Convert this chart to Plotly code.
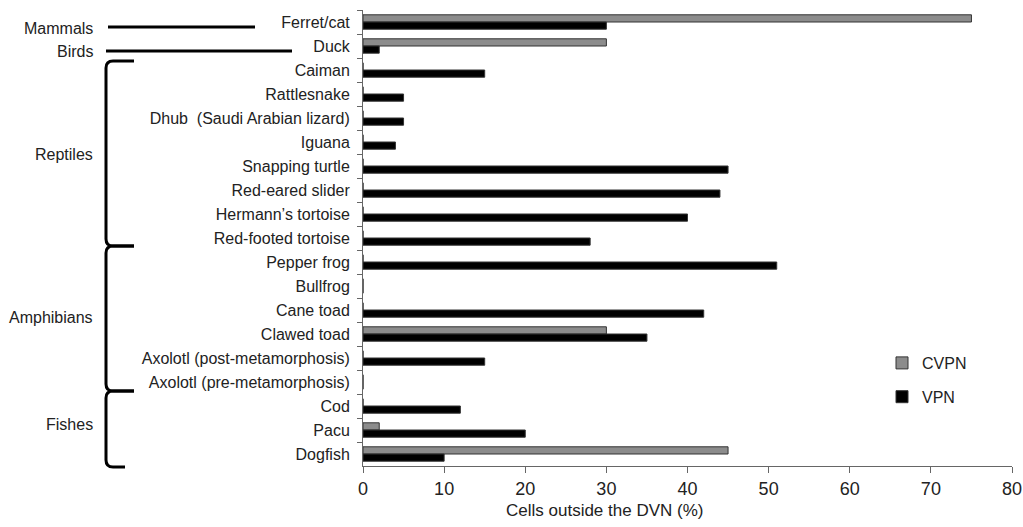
import plotly.graph_objects as go

species = ["Ferret/cat", "Duck", "Caiman", "Rattlesnake", "Dhub  (Saudi Arabian lizard)",
           "Iguana", "Snapping turtle", "Red-eared slider", "Hermann\u2019s tortoise",
           "Red-footed tortoise", "Pepper frog", "Bullfrog", "Cane toad", "Clawed toad",
           "Axolotl (post-metamorphosis)", "Axolotl (pre-metamorphosis)", "Cod", "Pacu", "Dogfish"]
cvpn = [75, 30, 0, 0, 0, 0, 0, 0, 0, 0, 0, 0, 0, 30, 0, 0, 0, 2, 45]
vpn = [30, 2, 15, 5, 5, 4, 45, 44, 40, 28, 51, 0, 42, 35, 15, 0, 12, 20, 10]
x_ticks = [0, 10, 20, 30, 40, 50, 60, 70, 80]
groups = ["Mammals", "Birds", "Reptiles", "Amphibians", "Fishes"]

# page body margin is removed (post_script), so figure pixels = window pixels
W, H = 1023, 527
# plot area in window pixels
SX0, SX1, SY0, SY1 = 363, 1012, 10, 466
L, R, T, B = SX0, W - SX1, SY0, H - SY1
PW, PH = W - L - R, H - T - B

def px(sx):
    return (sx - SX0) / PW

def py(sy):
    return (SY1 - sy) / PH

fig = go.Figure()
fig.add_trace(go.Bar(y=species, x=cvpn, name="CVPN", orientation="h",
                     marker=dict(color="#8c8c8c", line=dict(color="#333333", width=1)),
                     legendgroup="a"))
fig.add_trace(go.Bar(y=species, x=vpn, name="VPN", orientation="h",
                     marker=dict(color="#000000", line=dict(color="#333333", width=1)),
                     legendgroup="b"))

font = "Liberation Sans, Arial, sans-serif"

shapes = []
def line(x0, y0, x1, y1):
    shapes.append(dict(type="line", xref="paper", yref="paper",
                       x0=px(x0), y0=py(y0), x1=px(x1), y1=py(y1),
                       line=dict(color="black", width=3)))

def brace(ytop, ybot, xt=134, xb=134, xl=106):
    p = (f"M {px(xt)},{py(ytop)} L {px(xl+7)},{py(ytop)} "
         f"Q {px(xl)},{py(ytop)} {px(xl)},{py(ytop+7)} "
         f"L {px(xl)},{py(ybot-7)} Q {px(xl)},{py(ybot)} {px(xl+7)},{py(ybot)} "
         f"L {px(xb)},{py(ybot)}")
    shapes.append(dict(type="path", xref="paper", yref="paper", path=p,
                       line=dict(color="black", width=3)))

line(108, 27, 255, 27)
line(106, 51, 292, 51)
brace(61, 246)
brace(246, 391)
brace(391, 467, xb=125)

annotations = []
for txt, yy in zip(groups, [29, 52, 154, 317, 424]):
    annotations.append(dict(text=txt, xref="paper", yref="paper", x=px(95), y=py(yy),
                            xanchor="right", yanchor="middle", showarrow=False,
                            font=dict(family=font, size=16, color="#222")))
annotations.append(dict(text="Cells outside the DVN (%)", xref="paper", yref="paper",
                        x=px(604), y=py(511), xanchor="center", yanchor="middle", showarrow=False,
                        font=dict(family=font, size=17, color="#222")))

fig.update_layout(
    width=W, height=H,
    margin=dict(l=L, r=R, t=T, b=B, pad=0),
    plot_bgcolor="white", paper_bgcolor="white",
    barmode="group", bargap=0.4, bargroupgap=0,
    shapes=shapes, annotations=annotations,
    font=dict(family=font, color="#222"),
    legend=dict(x=px(882), y=py(346), xanchor="left", yanchor="top",
                font=dict(family=font, size=16, color="#222"),
                tracegroupgap=10, bgcolor="rgba(0,0,0,0)", itemwidth=30),
    xaxis=dict(range=[0, 80], tickvals=x_ticks, ticks="outside", ticklen=6,
               tickcolor="#666", showline=True, linecolor="#666", linewidth=1,
               showgrid=False, zeroline=False, automargin=False,
               ticklabeloverflow="allow",
               tickfont=dict(family=font, size=18, color="#222")),
    yaxis=dict(categoryorder="array", categoryarray=species, autorange="reversed",
               ticks="outside", ticklen=5, tickcolor="#666", tickson="boundaries",
               showline=True, linecolor="#666", linewidth=1, showgrid=False,
               automargin=False,
               tickfont=dict(family=font, size=16, color="#222"),
               ticklabelstandoff=9),
)

fig.write_html(
    "out.html",
    config={"displayModeBar": False},
    post_script=("document.documentElement.style.margin='0';"
                 "document.documentElement.style.overflow='hidden';"
                 "document.body.style.margin='0';"
                 "document.body.style.overflow='hidden';"),
)
